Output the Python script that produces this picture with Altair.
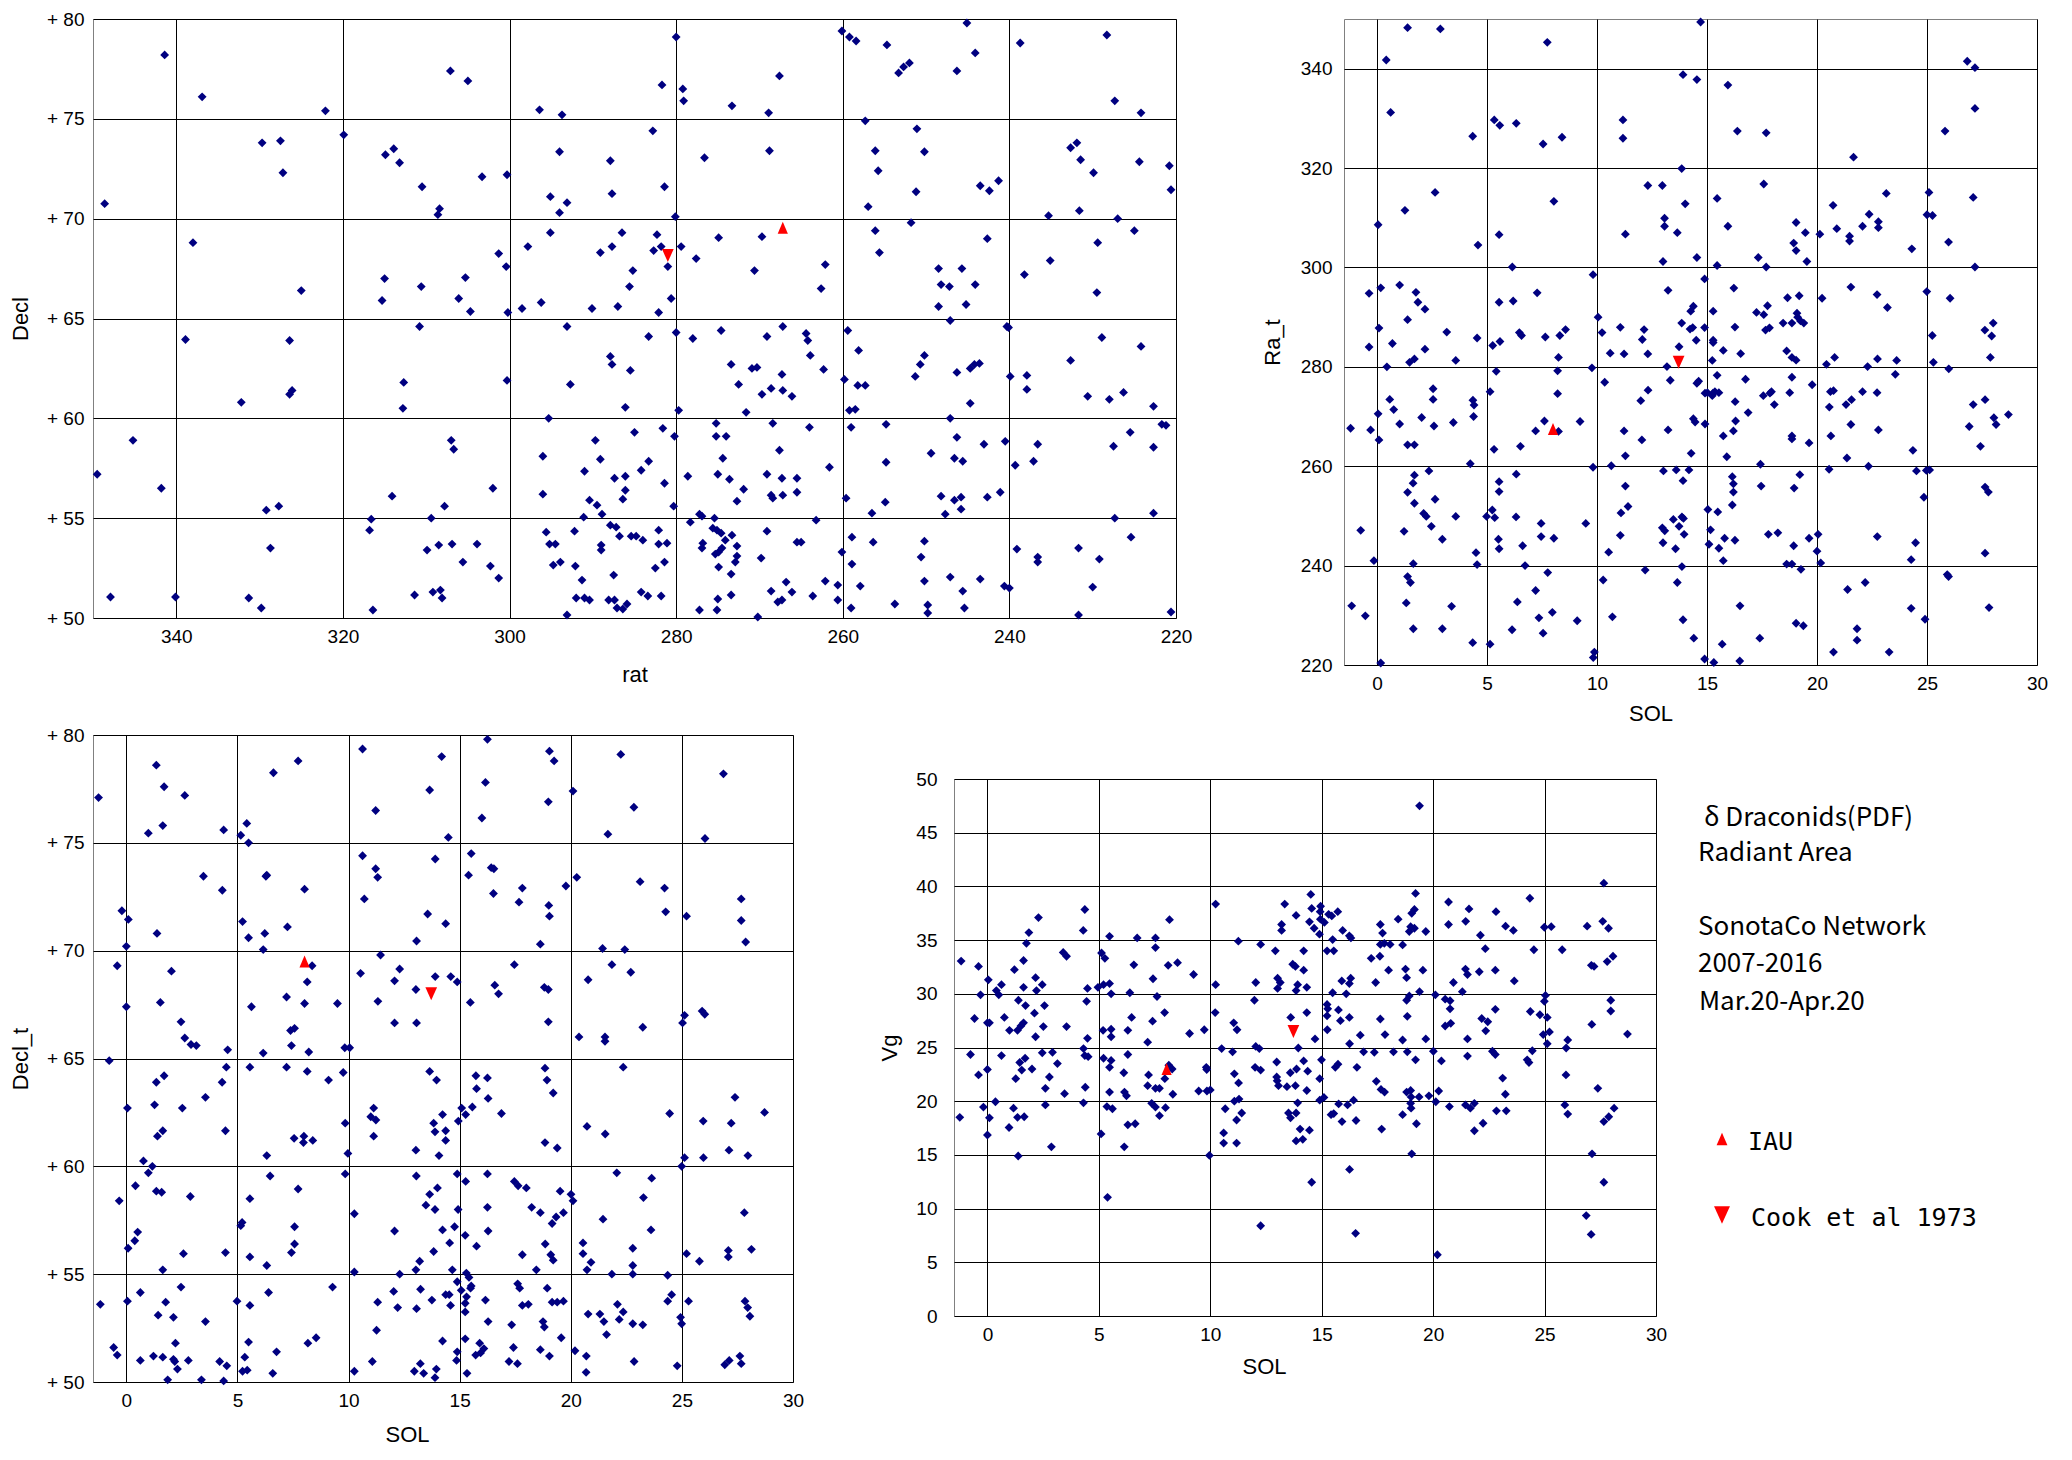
import altair as alt
import pandas as pd

# Panel 1: observed radiant, rat (deg) vs Decl (deg)
rat_decl = [
    (341.4, 78.2), (348.6, 70.75), (336.9, 76.1), (322.1, 75.4), (319.9, 74.2), (329.7, 73.8), (327.5, 73.9),
    (327.2, 72.3), (314.9, 73.2), (313.9, 73.5), (313.2, 72.8), (310.5, 71.6), (308.4, 70.5), (308.6, 70.2),
    (307.1, 77.4), (305.0, 76.9), (303.3, 72.1), (300.3, 72.2), (338.0, 68.8), (325.0, 66.4), (315.0, 67.0),
    (315.3, 65.9), (310.6, 66.6), (305.3, 67.05), (306.1, 66.0), (304.7, 65.35), (301.3, 68.25), (300.4, 67.6),
    (300.2, 65.3), (338.9, 63.95), (326.4, 63.9), (310.8, 64.6), (332.2, 60.8), (326.4, 61.2), (326.1, 61.4),
    (312.7, 61.8), (312.8, 60.5), (300.3, 61.9), (345.2, 58.9), (349.5, 57.2), (341.8, 56.5), (307.0, 58.9),
    (306.7, 58.45), (302.0, 56.5), (314.1, 56.1), (329.2, 55.4), (327.7, 55.6), (307.8, 55.6), (316.6, 54.95),
    (309.4, 55.0), (316.8, 54.4), (328.7, 53.5), (309.9, 53.4), (308.5, 53.65), (306.9, 53.7), (303.9, 53.7),
    (305.6, 52.8), (302.3, 52.6), (301.3, 52.0), (347.9, 51.05), (340.1, 51.05), (331.3, 51.0), (329.8, 50.5),
    (316.4, 50.4), (311.4, 51.15), (309.2, 51.3), (308.3, 51.4), (308.1, 51.0),
    (280.0, 79.1), (260.1, 79.4), (259.2, 79.1), (258.4, 78.9), (254.7, 78.7), (253.3, 77.3), (252.7, 77.6),
    (252.0, 77.8), (281.7, 76.7), (279.2, 76.5), (279.1, 75.9), (273.3, 75.65), (268.9, 75.3), (267.6, 77.15),
    (296.4, 75.45), (293.7, 75.2), (282.8, 74.4), (294.0, 73.35), (287.9, 72.9), (276.6, 73.05), (268.8, 73.4),
    (257.3, 74.9), (256.1, 73.4), (255.75, 72.4), (251.1, 74.5), (251.2, 71.35), (281.4, 71.6), (295.1, 71.1),
    (293.1, 70.8), (294.0, 70.3), (287.7, 71.25), (256.95, 70.6), (280.1, 70.1),
    (295.1, 69.3), (297.8, 68.6), (286.5, 69.3), (287.7, 68.6), (289.1, 68.3), (282.3, 69.2), (281.8, 68.6),
    (282.7, 68.4), (281.0, 67.6), (279.4, 68.6), (277.6, 68.0), (274.9, 69.05), (269.7, 69.1), (270.6, 67.4),
    (262.1, 67.7), (262.6, 66.5), (256.1, 69.4), (255.6, 68.3), (251.8, 69.8), (285.2, 67.4), (285.6, 66.6),
    (280.6, 66.0), (298.5, 65.5), (296.2, 65.8), (290.1, 65.5), (287.0, 65.6), (282.1, 65.3),
    (293.1, 64.6), (283.3, 64.1), (280.0, 64.3), (278.0, 64.0), (274.6, 64.4), (269.1, 64.1), (267.2, 64.6),
    (264.4, 64.25), (264.2, 63.9), (263.9, 63.15), (259.4, 64.4), (258.1, 63.4), (287.9, 63.1), (287.7, 62.7),
    (285.5, 62.4), (292.7, 61.7), (273.4, 62.7), (270.9, 62.5), (270.3, 62.55), (267.3, 62.2), (262.3, 62.45),
    (272.5, 61.7), (269.7, 61.2), (268.6, 61.5), (267.2, 61.4), (266.1, 61.1), (259.8, 61.95), (258.2, 61.65),
    (257.3, 61.65), (251.3, 62.1), (286.1, 60.55), (279.7, 60.4), (271.6, 60.3), (259.2, 60.4), (258.5, 60.45),
    (295.3, 60.0),
    (275.2, 59.75), (268.4, 59.75), (264.0, 59.55), (259.0, 59.55), (254.8, 59.7), (280.2, 59.1), (281.6, 59.5),
    (285.0, 59.3), (289.7, 58.9), (275.2, 59.1), (274.0, 59.1), (296.0, 58.1), (289.1, 57.95), (283.3, 57.85),
    (284.2, 57.4), (274.4, 58.0), (267.6, 58.4), (254.8, 57.8), (291.0, 57.35), (287.4, 57.0), (286.1, 57.1),
    (278.6, 57.1), (275.0, 57.2), (273.6, 56.95), (269.1, 57.2), (267.3, 57.0), (265.5, 57.0), (261.6, 57.55),
    (296.0, 56.2), (286.1, 56.4), (286.4, 55.95), (281.4, 56.75), (271.9, 56.45), (272.7, 55.85), (268.6, 56.15),
    (268.4, 56.0), (267.2, 56.15), (265.5, 56.3), (290.4, 55.9), (289.5, 55.65), (288.9, 55.2), (280.3, 55.6),
    (259.6, 56.0), (254.9, 55.8), (256.5, 55.25), (291.1, 55.05), (277.2, 55.2), (276.9, 55.1), (275.4, 55.0),
    (278.3, 54.8), (263.2, 54.9),
    (295.6, 54.3), (292.2, 54.35), (295.2, 53.7), (294.5, 53.7), (294.75, 52.65), (293.9, 52.8), (292.1, 52.6),
    (291.3, 51.9), (292.0, 51.0), (291.0, 51.0), (290.4, 50.9), (293.1, 50.15), (287.9, 54.65), (287.2, 54.55),
    (286.8, 54.1), (285.4, 54.1), (284.8, 54.1), (284.0, 53.9), (289.0, 53.65), (289.0, 53.4), (287.5, 52.15),
    (288.1, 50.9), (287.4, 50.9), (287.1, 50.5), (286.4, 50.45), (285.9, 50.7), (284.2, 51.3), (283.4, 51.1),
    (281.8, 51.1), (282.1, 54.4), (282.1, 53.7), (281.1, 53.75), (282.5, 52.5), (281.4, 52.8), (275.6, 54.5),
    (275.1, 54.4), (274.6, 54.25), (273.3, 54.15), (274.1, 53.9), (276.8, 53.75), (276.9, 53.5), (272.7, 53.6),
    (274.5, 53.5), (275.3, 53.2), (274.9, 53.3), (272.7, 53.1), (272.9, 52.8), (274.9, 52.55), (273.4, 52.2),
    (269.8, 53.0), (269.1, 54.35), (265.5, 53.8), (265.0, 53.8), (260.1, 53.3), (258.9, 54.05), (256.35, 53.8),
    (258.9, 52.7), (257.9, 51.6), (266.8, 51.8), (266.1, 51.3), (268.6, 51.35), (267.8, 50.8), (267.3, 50.9),
    (263.6, 51.1), (262.1, 51.85), (260.6, 51.65), (260.6, 50.9), (259.0, 50.5), (253.75, 50.7), (275.0, 50.95),
    (273.4, 51.15), (277.2, 50.4), (275.1, 50.4), (270.2, 50.05),
    (245.1, 79.8), (238.7, 78.8), (228.3, 79.2), (244.1, 78.3), (246.3, 77.4), (227.35, 75.9), (224.2, 75.3),
    (250.2, 73.35), (243.5, 71.65), (242.4, 71.4), (241.3, 71.9), (232.65, 73.55), (231.9, 73.8), (231.45, 72.95),
    (229.9, 72.3), (224.4, 72.85), (220.8, 72.65), (220.6, 71.45), (235.3, 70.15), (231.6, 70.4), (227.0, 70.0),
    (225.0, 69.4), (229.4, 68.8), (242.65, 69.0), (235.1, 67.9), (238.2, 67.2), (229.5, 66.3), (248.5, 67.5),
    (245.7, 67.5), (248.2, 66.7), (247.2, 66.6), (244.1, 66.7), (248.5, 65.6), (245.2, 65.7), (247.1, 64.9),
    (240.3, 64.6), (240.1, 64.55), (228.9, 64.05), (224.2, 63.6), (250.2, 63.15), (250.7, 62.7), (246.3, 62.3),
    (244.7, 62.5), (244.2, 62.7), (243.6, 62.75), (239.9, 62.1), (237.9, 62.15), (237.9, 61.45), (232.65, 62.9),
    (230.6, 61.1), (228.0, 60.95), (226.3, 61.3), (222.7, 60.6), (244.7, 60.75), (247.1, 60.0), (246.3, 59.05),
    (249.4, 58.25), (246.6, 58.0), (245.6, 57.85), (243.05, 58.7), (240.5, 58.85), (239.3, 57.65), (237.1, 57.85),
    (236.6, 58.7), (227.5, 58.6), (225.5, 59.3), (222.7, 58.55), (221.7, 59.7), (221.2, 59.65), (248.2, 56.1),
    (246.6, 55.9), (245.8, 56.05), (245.8, 55.45), (247.7, 55.2), (242.65, 56.05), (241.1, 56.3), (227.35, 55.0),
    (222.7, 55.25), (250.2, 53.85), (250.6, 53.05), (250.2, 51.85), (247.1, 52.05), (245.6, 51.35), (243.5, 51.95),
    (240.6, 51.6), (240.0, 51.5), (249.8, 50.65), (249.8, 50.25), (245.4, 50.5), (239.1, 53.45), (236.6, 53.05),
    (236.6, 52.8), (231.7, 53.5), (229.2, 52.95), (225.4, 54.05), (230.0, 51.55), (231.7, 50.15), (220.6, 50.3),
]

# Panel 2: SOL vs Ra_t
sol_ra = [
    (1.39, 348.25), (2.88, 348.0), (0.42, 341.75), (0.62, 331.2), (4.35, 326.4), (5.33, 329.7), (5.58, 328.6),
    (2.64, 315.1), (1.27, 311.5), (0.05, 308.6), (4.59, 304.5), (5.55, 306.6), (-0.36, 294.8), (0.17, 295.9),
    (1.03, 296.45), (1.77, 295.0), (1.86, 293.0), (2.18, 291.6), (1.39, 289.5), (0.09, 287.8), (3.17, 287.0),
    (4.55, 285.8), (5.26, 284.3), (5.59, 285.1), (-0.36, 284.0), (0.7, 284.7), (2.18, 283.55), (1.48, 280.9),
    (1.7, 281.6), (0.45, 280.0), (3.58, 281.3), (5.42, 279.1), (2.55, 275.6), (2.55, 273.45), (0.58, 273.45),
    (0.76, 271.4), (4.36, 273.3), (4.41, 272.3), (4.39, 270.0), (5.14, 275.0), (0.05, 270.55), (2.03, 269.8),
    (1.03, 268.5), (2.59, 268.1), (3.47, 268.8), (-1.2, 267.65), (-0.29, 267.3), (0.09, 265.3), (1.39, 264.3),
    (1.7, 264.3), (5.32, 263.4), (4.24, 260.5), (2.36, 259.05), (1.7, 258.2), (1.64, 256.6), (1.39, 254.75),
    (1.7, 252.55), (2.64, 253.35), (5.55, 256.9), (5.55, 254.9), (2.12, 250.5), (2.24, 249.9), (2.47, 247.9),
    (3.58, 249.9), (4.98, 249.9), (5.24, 251.2), (5.35, 249.65), (-0.74, 247.1), (1.23, 246.9), (2.97, 245.3),
    (5.52, 245.3), (5.55, 243.4), (-0.14, 241.0), (1.65, 240.4), (4.5, 242.6), (4.55, 240.2), (1.39, 237.8),
    (1.52, 236.6), (-1.15, 231.9), (-0.53, 229.9), (1.33, 232.5), (3.39, 231.8), (1.65, 227.3), (2.97, 227.3),
    (4.35, 224.5), (5.14, 224.2), (0.17, 220.4), (5.55, 293.0),
    (14.71, 349.4), (7.74, 345.3), (26.83, 341.5), (27.18, 340.2), (13.91, 338.8), (14.54, 337.8), (15.95, 336.7),
    (27.18, 332.0), (6.33, 329.0), (11.18, 329.7), (11.18, 326.0), (7.55, 324.85), (8.41, 326.2), (16.38, 327.45),
    (17.69, 327.1), (25.82, 327.45), (21.66, 322.2),
    (13.85, 319.9), (12.31, 316.5), (12.97, 316.5), (15.46, 313.9), (8.04, 313.3), (14.01, 312.8), (17.58, 316.8),
    (13.07, 309.9), (13.07, 308.3), (15.95, 308.3), (13.65, 307.0), (11.29, 306.7), (20.73, 312.5), (23.15, 314.9),
    (25.09, 315.1), (27.1, 314.1), (19.05, 309.05), (19.47, 307.0), (18.94, 304.9), (19.05, 303.4), (20.13, 306.7),
    (20.9, 307.8), (21.48, 306.3), (21.48, 305.3), (22.07, 308.3), (22.37, 310.7), (22.79, 309.2), (22.79, 308.0),
    (25.0, 310.6), (25.25, 310.45), (25.98, 305.1), (24.31, 303.75), (19.54, 301.2), (13.0, 301.2), (14.54, 302.0),
    (15.46, 300.4), (17.33, 302.0), (17.69, 300.1), (27.18, 300.1), (6.15, 300.1),
    (9.82, 298.55), (14.89, 297.7), (13.23, 295.4), (7.28, 294.9), (6.19, 293.25), (16.22, 295.85), (14.38, 292.2),
    (14.26, 291.2), (13.85, 288.8), (14.23, 287.6), (14.35, 287.9), (14.89, 287.9), (14.51, 285.35), (15.28, 291.2),
    (15.28, 285.35), (15.28, 284.9), (15.74, 283.3), (16.27, 288.0), (16.53, 282.65), (13.73, 284.05),
    (10.05, 290.0), (10.23, 286.9), (11.06, 287.95), (12.14, 287.5), (12.06, 285.5), (10.6, 282.75),
    (11.23, 282.6), (12.31, 282.6), (6.47, 286.9), (6.57, 286.3), (7.65, 286.0), (8.31, 286.3), (8.57, 287.5),
    (8.25, 281.9), (17.25, 290.95), (17.58, 290.5), (17.75, 292.3), (17.66, 287.4), (17.84, 287.85),
    (18.46, 288.8), (18.66, 293.9), (19.19, 294.3), (18.86, 288.8), (19.09, 290.8), (19.12, 290.0),
    (19.25, 289.25), (19.4, 288.8), (18.62, 283.2), (18.86, 281.9), (19.05, 281.35), (20.23, 293.8),
    (21.54, 296.05), (22.73, 294.55), (23.2, 291.95), (24.99, 295.15), (26.05, 293.8), (27.63, 287.4),
    (28.01, 288.8), (27.94, 286.2), (27.88, 281.9), (25.24, 286.3), (20.8, 281.9), (22.75, 281.6), (23.62, 281.3),
    (15.24, 281.3), (9.77, 279.8), (13.18, 280.05), (22.3, 280.05), (25.29, 280.9),
    (8.21, 279.2), (8.21, 274.6), (10.35, 276.9), (12.32, 275.3), (11.99, 273.2), (13.33, 277.3), (14.54, 276.7),
    (14.62, 277.1), (14.91, 274.7), (15.02, 274.8), (15.27, 274.7), (15.36, 275.0), (15.54, 274.8), (15.24, 274.2),
    (15.46, 278.3), (16.28, 273.0), (16.75, 277.5), (17.56, 274.2), (17.86, 274.7), (17.93, 275.0), (18.06, 272.4),
    (16.87, 270.8), (18.86, 277.9), (18.76, 274.8), (19.78, 276.4), (20.43, 280.5), (20.56, 271.9), (20.61, 275.0),
    (20.75, 275.2), (21.32, 272.4), (21.57, 273.4), (22.07, 275.0), (22.73, 274.8), (23.56, 278.5), (25.99, 279.6),
    (27.1, 272.4), (27.64, 273.4), (28.04, 269.75), (28.14, 268.4), (28.7, 270.4), (26.92, 268.0), (27.43, 264.0),
    (24.36, 263.2), (22.79, 267.3), (21.54, 268.4), (21.36, 261.65), (20.63, 266.1), (20.55, 259.4),
    (19.64, 264.7), (18.86, 266.1), (18.86, 265.5), (16.3, 269.1), (16.2, 267.1), (15.74, 266.1), (15.9, 261.9),
    (14.91, 268.5), (14.46, 268.9), (14.38, 269.55), (14.28, 262.6), (13.23, 267.3), (11.23, 267.1),
    (11.29, 262.1), (12.04, 265.3), (9.23, 269.0), (7.61, 269.1), (7.21, 267.1), (8.25, 267.0), (6.52, 264.0),
    (10.65, 260.1), (13.02, 259.05), (13.6, 259.25), (13.91, 257.1), (14.18, 259.25), (17.43, 260.4),
    (22.34, 260.0), (24.52, 259.05), (24.97, 259.15), (25.12, 259.25), (9.82, 259.8),
    (6.33, 258.4), (11.29, 256.0), (16.15, 257.9), (16.2, 256.45), (16.2, 254.8), (16.15, 252.2), (17.46, 256.0),
    (19.22, 258.3), (18.96, 255.6), (24.86, 253.75), (27.64, 255.8), (27.79, 254.8), (6.32, 249.8), (7.46, 248.5),
    (9.49, 248.5), (11.09, 250.6), (11.41, 251.9), (15.04, 251.3), (15.49, 250.8), (7.46, 245.85), (8.04, 245.5),
    (6.62, 244.0), (10.53, 242.7), (11.06, 246.1), (12.97, 247.6), (13.08, 247.0), (13.0, 244.6), (13.47, 249.3),
    (13.73, 247.9), (13.86, 249.8), (13.93, 249.5), (13.96, 246.3), (13.57, 243.4), (15.16, 247.2),
    (15.09, 244.3), (15.54, 243.5), (15.8, 245.5), (16.27, 245.1), (15.74, 241.0), (17.79, 246.3), (18.22, 246.6),
    (18.94, 244.0), (19.64, 245.5), (20.05, 246.3), (20.0, 242.9), (20.17, 240.55), (18.62, 240.3),
    (18.86, 240.3), (19.27, 239.25), (22.74, 245.85), (24.48, 244.6), (24.28, 241.2), (27.64, 242.5),
    (6.73, 240.0), (7.76, 238.6),
    (10.28, 237.1), (12.19, 239.1), (13.65, 236.6), (13.86, 239.8), (25.92, 238.2), (25.98, 237.8),
    (21.39, 235.2), (22.19, 236.6), (7.21, 235.0), (6.38, 232.7), (7.36, 229.5), (7.97, 230.6), (9.1, 228.9),
    (7.55, 226.4), (6.14, 227.1), (10.7, 229.7), (13.91, 229.1), (14.4, 225.4), (16.5, 231.9), (17.4, 225.4),
    (14.89, 221.2), (15.31, 220.5), (15.69, 224.2), (16.49, 220.8), (19.05, 228.4), (19.38, 227.9),
    (20.75, 222.6), (21.82, 227.3), (21.82, 225.0), (23.28, 222.6), (24.28, 231.4), (24.91, 229.2),
    (27.82, 231.55), (9.88, 222.6), (9.83, 221.5),
]

# Panel 3: SOL vs Decl_t
sol_decl = [
    (1.35, 78.6), (1.7, 77.6), (2.63, 77.2), (-1.25, 77.1), (1.64, 75.8), (0.99, 75.45), (4.38, 75.6), (5.42, 75.9),
    (5.15, 75.35), (5.5, 75.0), (6.62, 78.25), (7.73, 78.8), (10.63, 79.35), (11.22, 76.5), (13.65, 77.45),
    (14.19, 79.0), (14.49, 75.25),
    (10.63, 74.4), (11.22, 73.8), (11.31, 73.4), (10.71, 72.4), (13.9, 74.25), (13.56, 71.7), (14.37, 71.25),
    (13.06, 70.45), (3.47, 73.45), (4.32, 72.8), (-0.2, 71.85), (0.09, 71.45), (1.38, 70.8), (0.0, 70.2),
    (5.23, 71.35), (5.5, 70.6), (6.23, 70.8), (6.16, 70.05), (7.25, 71.1), (6.28, 73.45), (6.32, 73.5), (8.02, 72.85),
    (-0.41, 69.3), (2.03, 69.05), (0.0, 67.4), (1.53, 67.6), (2.46, 66.7), (2.63, 65.95), (2.91, 65.65),
    (3.15, 65.6), (4.56, 65.4), (8.36, 69.3), (8.14, 68.55), (7.21, 67.85), (8.02, 67.55), (9.5, 67.55),
    (5.63, 67.4), (7.39, 66.3), (7.57, 66.4), (7.43, 65.6), (8.21, 65.3), (6.16, 65.25), (9.83, 65.5),
    (10.05, 65.5), (10.54, 68.95), (11.44, 69.8), (12.3, 69.15), (12.07, 68.6), (11.32, 67.65), (13.03, 68.2),
    (12.07, 66.65), (13.06, 66.65), (13.9, 68.8), (14.6, 68.8), (14.89, 68.55), (-0.77, 64.9),
    (1.35, 63.9), (1.7, 64.2), (1.27, 62.85), (0.05, 62.7), (2.52, 62.7), (1.4, 61.4), (1.64, 61.65), (3.56, 63.2),
    (4.31, 63.9), (4.5, 64.6), (4.46, 61.65), (5.56, 64.6), (7.21, 64.6), (8.14, 64.4), (9.1, 64.0), (9.76, 64.35),
    (9.85, 62.0), (9.97, 60.6), (7.55, 61.3), (7.99, 61.4), (7.97, 61.1), (8.39, 61.2), (6.32, 60.5), (0.77, 60.25),
    (1.17, 60.0), (0.99, 59.7), (11.13, 62.7), (11.0, 62.3), (11.23, 62.15), (11.13, 61.4), (13.65, 64.4),
    (13.96, 64.0), (14.23, 62.4), (13.83, 62.0), (13.89, 61.6), (14.37, 61.65), (14.37, 61.2), (14.07, 60.5),
    (13.03, 60.75), (14.94, 62.1),
    (0.41, 59.1), (-0.32, 58.4), (1.35, 58.85), (1.59, 58.8), (2.88, 58.6), (6.47, 59.55), (7.73, 58.95),
    (5.56, 58.5), (5.15, 57.25), (5.21, 57.4), (0.51, 56.95), (0.38, 56.55), (0.08, 56.2), (2.57, 55.95),
    (4.46, 56.0), (5.56, 55.8), (1.64, 55.2), (6.32, 55.4), (7.57, 57.2), (7.57, 56.4), (7.43, 56.0), (9.85, 59.65),
    (10.26, 57.8), (12.07, 57.0), (13.05, 59.55), (13.65, 58.7), (13.48, 58.2), (13.89, 58.0), (14.0, 59.0),
    (14.89, 59.65), (14.23, 57.05), (14.55, 56.45), (14.77, 57.2), (14.93, 58.0), (13.83, 56.05), (13.2, 55.6),
    (13.03, 55.2), (12.3, 55.0), (10.26, 55.1), (14.67, 55.2), (14.89, 54.65),
    (-1.17, 53.6), (0.05, 53.75), (0.63, 54.15), (1.77, 53.7), (1.43, 53.1), (2.12, 53.0), (2.46, 54.4),
    (3.56, 52.8), (4.98, 53.75), (5.56, 53.55), (6.4, 54.15), (9.28, 54.4), (11.31, 53.7), (12.03, 54.2),
    (12.21, 53.45), (13.06, 53.4), (13.24, 54.3), (13.75, 53.8), (14.37, 54.05), (14.53, 54.05), (14.59, 53.55),
    (11.26, 52.4), (-0.57, 51.6), (-0.41, 51.25), (0.63, 51.0), (1.22, 51.2), (1.64, 51.15), (2.12, 51.05),
    (2.18, 50.95), (2.21, 51.8), (2.3, 50.6), (1.86, 50.1), (2.79, 51.0), (3.38, 50.1), (4.2, 50.95), (4.52, 50.75),
    (4.38, 50.05), (5.5, 51.85), (5.33, 51.15), (5.23, 50.5), (5.44, 50.55), (6.59, 50.4), (6.76, 51.4),
    (8.17, 51.8), (8.54, 52.05), (10.26, 50.5), (11.07, 50.95), (13.23, 50.85), (12.96, 50.5), (13.38, 50.4),
    (13.95, 50.6), (13.89, 50.2), (14.23, 51.9), (14.89, 51.4), (14.86, 51.0),
    (16.25, 79.8), (19.04, 79.25), (19.25, 78.8), (16.16, 77.8), (18.99, 76.9), (16.0, 76.15), (20.1, 77.4),
    (22.25, 79.1), (22.84, 76.65), (21.67, 75.4), (26.87, 78.2), (26.04, 75.2),
    (15.52, 74.5), (15.4, 73.5), (16.42, 73.85), (16.54, 73.8), (16.52, 72.65), (17.82, 72.9), (17.67, 72.25),
    (19.01, 72.1), (19.04, 71.6), (19.78, 73.0), (20.27, 73.4), (18.63, 70.3), (21.43, 70.1), (22.43, 70.05),
    (23.12, 73.2), (24.22, 72.9), (24.27, 71.8), (25.21, 71.6), (27.67, 72.4), (27.67, 71.4), (27.87, 70.4),
    (17.46, 69.35), (16.58, 68.4), (16.75, 68.0), (15.48, 67.6), (18.81, 68.3), (18.99, 68.2), (18.99, 66.7),
    (20.78, 68.65), (21.85, 69.35), (22.7, 69.0), (23.24, 66.45), (20.37, 66.0), (21.54, 66.0), (21.54, 65.8),
    (25.12, 67.0), (25.03, 66.65), (25.91, 67.2), (26.03, 67.05),
    (15.73, 64.2), (15.76, 63.6), (16.25, 64.1), (16.28, 63.15), (15.57, 62.75), (15.27, 62.4), (15.09, 62.7),
    (16.88, 62.45), (18.84, 64.55), (18.93, 64.0), (19.21, 63.4), (18.84, 61.1), (19.39, 60.85), (22.36, 64.6),
    (20.73, 61.85), (21.55, 61.5), (24.45, 62.45), (25.12, 60.4), (25.96, 62.1), (25.97, 60.4), (27.39, 63.2),
    (27.22, 62.0), (28.72, 62.5), (27.12, 60.75), (27.97, 60.5), (24.99, 60.0),
    (15.27, 59.3), (16.25, 59.65), (17.46, 59.3), (17.63, 59.1), (18.0, 59.0), (19.52, 58.85), (20.01, 58.7),
    (20.1, 58.4), (22.07, 59.7), (23.64, 59.45), (23.27, 58.55), (16.25, 58.1), (16.28, 57.0), (18.24, 58.1),
    (18.63, 57.85), (19.67, 57.85), (19.34, 57.65), (19.16, 57.35), (21.45, 57.55), (23.61, 57.05), (15.25, 56.8),
    (15.76, 56.3), (18.85, 56.4), (19.1, 55.9), (19.21, 55.65), (17.82, 55.9), (18.45, 55.2), (20.55, 56.45),
    (20.55, 55.95), (20.91, 55.55), (20.73, 55.2), (22.79, 56.2), (22.79, 55.4), (27.81, 57.85), (28.13, 56.15),
    (27.09, 56.1), (27.09, 55.8), (25.21, 55.95), (25.79, 55.6),
    (15.3, 55.05), (15.42, 54.85), (15.52, 54.45), (15.49, 54.35), (15.07, 54.25), (15.31, 53.95), (15.25, 53.65),
    (15.25, 53.25), (16.16, 53.8), (16.28, 52.8), (17.61, 54.55), (17.7, 54.35), (17.82, 53.55), (18.09, 53.6),
    (18.94, 54.35), (19.16, 53.7), (19.39, 53.7), (19.67, 53.75), (17.34, 52.65), (18.75, 52.8), (18.81, 52.55),
    (19.57, 52.05), (15.25, 52.0), (15.9, 51.8), (16.09, 51.55), (15.72, 51.25), (15.94, 51.35), (17.42, 51.6),
    (17.22, 50.95), (17.6, 50.85), (18.63, 51.5), (19.04, 51.2), (15.33, 50.4), (20.78, 53.15), (21.31, 53.15),
    (21.49, 52.8), (21.61, 52.2), (22.1, 53.6), (22.18, 52.9), (22.36, 53.25), (21.85, 55.0), (22.79, 55.0),
    (22.79, 52.7), (23.24, 52.65), (20.19, 51.45), (20.7, 51.2), (20.69, 50.45), (22.85, 50.95), (24.36, 54.95),
    (24.54, 54.05), (24.36, 53.75), (25.3, 53.75), (24.94, 53.0), (24.99, 52.7), (24.79, 50.75), (27.84, 53.75),
    (27.96, 53.45), (28.06, 53.05), (26.93, 50.8), (27.13, 51.0), (27.61, 51.2), (27.67, 50.85),
]

# Panel 4: SOL vs Vg (km/s)
sol_vg = [
    (-1.18, 33.05), (-0.4, 32.55), (-0.31, 29.9), (-0.58, 27.7), (-0.76, 24.35), (-0.4, 22.45), (-0.18, 19.45),
    (-1.24, 18.5), (0.04, 31.3), (0.4, 30.3), (0.51, 29.9), (0.63, 30.85), (0.0, 27.3), (0.09, 27.3), (0.76, 27.8),
    (0.63, 24.25), (0.0, 22.95), (0.36, 19.95), (0.09, 18.45), (0.0, 16.85), (0.97, 17.55), (1.38, 14.9),
    (1.21, 32.25), (1.62, 33.1), (1.75, 34.7), (1.86, 35.7), (2.29, 37.1), (2.16, 31.5), (2.2, 30.3), (2.46, 30.85),
    (1.62, 30.6), (1.39, 29.4), (1.71, 28.9), (2.56, 28.9), (2.11, 28.2), (0.99, 26.6), (1.35, 26.6), (1.5, 27.0),
    (1.62, 27.3), (2.51, 26.95), (2.16, 26.0), (3.55, 26.95), (3.4, 33.85), (3.55, 33.5), (4.3, 35.9),
    (4.37, 37.85), (4.49, 30.5), (4.45, 29.3), (4.49, 25.85), (4.31, 24.9), (4.37, 24.25), (4.52, 24.15),
    (1.45, 23.6), (1.69, 24.0), (2.46, 24.5), (2.92, 24.55), (1.54, 22.9), (2.0, 23.0), (3.14, 23.5), (2.78, 22.25),
    (1.27, 22.1), (2.6, 21.2), (3.46, 20.7), (4.39, 21.3), (4.31, 19.85), (2.6, 19.65), (1.17, 19.35), (1.35, 18.5),
    (1.65, 18.55), (2.87, 15.75), (5.48, 35.35), (5.12, 33.8), (5.27, 33.3), (4.96, 30.6), (5.21, 30.85),
    (5.48, 30.95), (5.55, 30.0), (6.39, 30.1), (6.57, 32.7), (6.72, 35.2), (7.54, 35.2), (7.54, 34.3), (8.17, 36.9),
    (8.11, 32.65), (8.53, 32.9), (7.43, 31.4), (7.61, 29.75), (9.25, 31.8), (7.95, 28.25), (7.41, 27.45),
    (6.47, 27.8), (6.3, 26.6), (5.19, 26.6), (5.55, 26.7), (5.55, 26.0), (7.19, 25.5), (9.07, 26.3), (9.73, 26.65),
    (6.3, 24.35), (5.21, 24.0), (5.55, 23.8), (5.48, 23.15), (6.12, 22.65), (7.23, 22.45), (8.14, 23.35),
    (8.29, 23.0), (7.96, 22.1), (7.19, 21.45), (7.54, 21.2), (7.72, 21.2), (8.32, 20.65), (9.48, 20.95),
    (9.85, 20.95), (10.0, 21.05), (9.84, 22.95), (9.82, 23.15), (5.48, 20.85), (6.15, 20.85), (6.24, 20.5),
    (7.37, 19.8), (7.54, 19.45), (7.99, 19.4), (7.72, 18.65), (5.36, 19.5), (5.61, 19.3), (6.3, 17.8), (6.63, 17.9),
    (5.1, 16.95), (6.14, 15.75), (5.39, 11.05), (9.96, 14.95), (10.24, 38.35), (10.24, 30.85), (10.22, 28.25),
    (11.26, 34.9), (12.26, 34.6), (11.05, 27.3), (11.2, 26.65), (10.51, 24.9), (11.0, 24.6), (12.04, 31.05),
    (11.98, 29.4), (12.04, 25.1), (12.2, 24.9), (12.01, 23.15), (12.26, 22.9), (11.08, 22.55), (11.27, 21.7),
    (11.08, 20.0), (11.29, 20.2), (11.41, 18.9), (10.67, 19.3), (11.18, 18.25), (10.6, 17.05), (10.6, 16.1),
    (11.18, 16.1), (12.26, 8.4), (12.92, 34.0), (13.34, 38.35), (13.2, 36.45), (13.2, 35.9), (13.85, 37.3),
    (14.51, 39.25), (14.55, 37.95), (14.45, 36.7), (14.66, 36.1), (14.19, 34.0), (13.7, 32.75), (13.82, 32.55),
    (14.19, 32.2), (13.02, 31.45), (13.14, 31.05), (13.02, 30.5), (13.92, 30.85), (13.85, 30.3), (14.33, 30.6),
    (13.61, 27.8), (14.33, 28.25), (14.7, 25.8), (13.95, 24.95), (12.98, 23.65), (14.19, 23.75), (13.59, 22.65),
    (13.87, 23.0), (14.37, 22.8), (12.98, 22.25), (13.0, 21.9), (13.06, 21.45), (13.44, 21.35), (13.82, 21.45),
    (14.33, 21.0), (13.92, 19.85), (13.51, 18.9), (13.85, 18.9), (13.6, 18.45), (14.03, 17.4), (14.45, 17.3),
    (13.85, 16.3), (14.15, 16.45), (14.55, 12.45),
    (19.39, 47.5), (27.66, 40.3), (19.21, 39.35), (20.69, 38.55), (24.34, 38.9), (21.61, 37.9), (22.82, 37.65),
    (14.95, 38.15), (14.93, 37.65), (15.31, 37.4), (15.45, 37.25), (15.72, 37.65), (14.94, 36.95), (15.12, 36.65),
    (14.9, 35.55), (15.94, 35.9), (16.24, 35.4), (16.31, 35.2), (15.49, 35.05), (15.24, 34.0), (15.54, 34.0),
    (19.04, 37.5), (19.16, 37.85), (18.99, 36.25), (19.16, 36.1), (18.93, 35.8), (19.67, 35.8), (18.43, 36.95),
    (17.63, 36.45), (17.73, 35.65), (17.63, 34.6), (17.81, 34.7), (18.07, 34.6), (18.63, 34.55), (17.22, 33.3),
    (17.61, 33.5), (20.69, 36.45), (21.46, 36.75), (22.12, 35.45), (23.25, 36.3), (23.6, 35.9), (22.34, 34.2),
    (24.52, 34.1), (24.99, 36.2), (25.3, 36.25), (25.79, 34.1), (26.91, 36.3), (27.61, 36.75), (27.87, 36.1),
    (27.1, 32.65), (27.22, 32.55), (27.81, 33.0), (28.07, 33.5), (18.0, 32.2), (18.76, 32.3), (18.81, 31.5),
    (19.54, 32.2), (17.42, 31.05), (15.9, 31.2), (16.3, 31.45), (16.24, 30.95), (15.49, 30.1), (16.1, 30.0),
    (19.39, 30.2), (18.93, 29.8), (18.81, 29.4), (20.1, 29.9), (21.45, 32.3), (21.54, 31.8), (22.07, 32.05),
    (22.79, 32.2), (20.91, 31.05), (21.31, 30.2), (23.64, 31.2), (20.54, 29.5), (20.76, 29.35), (20.76, 28.6),
    (20.54, 27.0), (20.79, 27.25), (22.79, 28.55), (22.18, 27.7), (22.45, 27.4), (22.36, 26.55), (25.04, 29.85),
    (24.99, 29.3), (24.36, 28.35), (24.79, 28.05), (25.12, 27.8), (24.94, 26.2), (25.22, 26.45), (25.12, 25.35),
    (26.04, 25.7), (25.97, 24.95), (27.97, 29.4), (27.97, 28.4), (27.12, 27.15), (28.72, 26.25), (15.24, 29.0),
    (15.27, 28.6), (15.24, 27.95), (15.25, 26.65), (15.75, 28.5), (15.84, 27.5), (16.24, 27.8), (16.25, 25.35),
    (16.73, 26.15), (17.63, 27.65), (17.84, 26.2), (18.84, 27.9), (18.63, 25.7), (19.67, 25.8), (21.54, 25.8),
    (16.88, 24.6), (17.36, 24.55), (18.22, 24.6), (18.84, 24.6), (20.01, 24.65), (20.37, 23.75), (21.54, 24.2),
    (22.66, 24.65), (22.79, 24.35), (24.45, 24.7), (24.22, 23.85), (24.3, 23.6), (14.99, 23.85), (15.61, 23.15),
    (15.73, 23.45), (16.58, 23.15), (19.21, 23.85), (14.91, 22.1), (17.45, 21.85), (17.66, 21.1), (17.82, 20.85),
    (18.81, 20.85), (18.99, 21.0), (19.01, 20.4), (19.37, 20.4), (19.81, 20.5), (20.25, 20.95), (20.12, 19.95),
    (18.99, 19.8), (19.01, 19.35), (23.12, 22.15), (23.24, 20.65), (25.96, 22.45), (27.39, 21.2), (14.91, 20.1),
    (15.1, 20.35), (15.76, 19.75), (16.16, 19.65), (16.43, 20.1), (15.42, 18.75), (15.54, 18.85), (15.91, 18.1),
    (16.54, 18.2), (18.63, 18.75), (19.25, 17.9), (17.69, 17.4), (20.73, 19.5), (21.45, 19.65), (21.67, 19.35),
    (21.85, 19.8), (22.24, 17.95), (21.85, 17.25), (22.84, 19.1), (23.28, 19.1), (25.91, 19.65), (26.04, 18.8),
    (27.66, 18.1), (27.88, 18.55), (28.12, 19.35), (19.04, 15.1), (27.13, 15.1), (16.25, 13.65), (27.66, 12.45),
    (26.87, 9.35), (27.09, 7.6), (16.52, 7.7), (20.19, 5.7),
]

# reference radiants, one point per panel (panel 1..4)
iau_refs = [(267.2, 69.55), (8.0, 267.5), (8.02, 69.5), (8.04, 23.0)]
cook_refs = [(281.0, 68.15), (13.71, 280.9), (13.72, 68.0), (13.73, 26.5)]

rat_ticks = [220, 240, 260, 280, 300, 320, 340]
sol_ticks = [0, 5, 10, 15, 20, 25, 30]
decl_ticks = [50, 55, 60, 65, 70, 75, 80]
ra_ticks = [220, 240, 260, 280, 300, 320, 340]
vg_ticks = [0, 5, 10, 15, 20, 25, 30, 35, 40, 45, 50]

legend_lines = ["δ Draconids(PDF)", "Radiant Area", "SonotaCo Network", "2007-2016", "Mar.20-Apr.20"]
ref_names = ["IAU", "Cook et al 1973"]

NAVY = "#000080"
RED = "#ff0000"
FONT = "Liberation Sans"
UP = "M0,-1L0.85,1L-0.85,1Z"
DOWN = "M0,1L0.9,-1L-0.9,-1Z"


def make_axis(title, ticks, title_pad, label_pad=9, plus=False, title_x=None):
    opts = dict(
        title=title, values=ticks, grid=True, gridColor="black", gridWidth=1,
        ticks=False, domain=False, labelFlush=False, labelOverlap=False,
        labelFont=FONT, labelFontSize=19, labelColor="black", labelPadding=label_pad,
        titleFont=FONT, titleFontSize=22, titleFontWeight="normal", titleColor="black",
        titlePadding=title_pad,
    )
    if plus:
        opts["labelExpr"] = "'+ ' + datum.value"
    if title_x is not None:
        opts["titleX"] = title_x
    return alt.Axis(**opts)


def panel(points, iau, cook, x_axis, y_axis, x_dom, y_dom, w, h, x_rev=False):
    x = alt.X("x:Q", scale=alt.Scale(domain=x_dom, reverse=x_rev, nice=False, zero=False), axis=x_axis)
    y = alt.Y("y:Q", scale=alt.Scale(domain=y_dom, nice=False, zero=False), axis=y_axis)
    dots = alt.Chart(pd.DataFrame(points, columns=["x", "y"])).mark_point(
        shape="diamond", filled=True, size=78, color=NAVY, opacity=1
    ).encode(x=x, y=y)
    up = alt.Chart(pd.DataFrame([iau], columns=["x", "y"])).mark_point(
        shape=UP, filled=True, size=144, color=RED, opacity=1
    ).encode(x=x, y=y)
    down = alt.Chart(pd.DataFrame([cook], columns=["x", "y"])).mark_point(
        shape=DOWN, filled=True, size=169, color=RED, opacity=1
    ).encode(x=x, y=y)
    return alt.layer(dots, up, down).properties(
        width=w, height=h, view=alt.ViewBackground(stroke="#808080", strokeWidth=1)
    )


p1 = panel(rat_decl, iau_refs[0], cook_refs[0],
           make_axis("rat", rat_ticks, 18), make_axis("Decl", decl_ticks, 14, plus=True),
           [220, 350], [50, 80], 1083, 599, x_rev=True)
p2 = panel(sol_ra, iau_refs[1], cook_refs[1],
           make_axis("SOL", sol_ticks, 10, title_x=693 / 2 - 40),
           make_axis("Ra_t", ra_ticks, 16, label_pad=12),
           [-1.5, 30], [220, 350], 693, 646)
p3 = panel(sol_decl, iau_refs[2], cook_refs[2],
           make_axis("SOL", sol_ticks, 14, title_x=700 / 2 - 36), make_axis("Decl_t", decl_ticks, 14, plus=True),
           [-1.5, 30], [50, 80], 700, 647)
p4 = panel(sol_vg, iau_refs[3], cook_refs[3],
           make_axis("SOL", sol_ticks, 12, title_x=702 / 2 - 41),
           make_axis("Vg", vg_ticks, 14, label_pad=17),
           [-1.5, 30], [0, 50], 702, 537)

# annotation block to the right of the Vg panel
note = []
for line, y_pos, x_pos in zip(legend_lines, [47, 82, 156, 193, 231], [750, 744, 744, 744, 745]):
    note.append(alt.Chart(pd.DataFrame({"t": [line]})).mark_text(
        align="left", baseline="alphabetic", font="Noto Sans CJK JP", fontSize=26, color="black"
    ).encode(text="t:N", x=alt.value(x_pos), y=alt.value(y_pos)))
for name, shape, sz, y_mark, y_text, x_text in zip(
        ref_names, [UP, DOWN], [161, 313], [360, 436], [371, 447], [794, 797]):
    note.append(alt.Chart(pd.DataFrame({"t": [name]})).mark_point(
        shape=shape, filled=True, size=sz, color=RED, opacity=1
    ).encode(x=alt.value(768), y=alt.value(y_mark)))
    note.append(alt.Chart(pd.DataFrame({"t": [name]})).mark_text(
        align="left", baseline="alphabetic", font="DejaVu Sans Mono", fontSize=25, color="black"
    ).encode(text="t:N", x=alt.value(x_text), y=alt.value(y_text)))

p4 = alt.layer(p4, *note)

# invisible block that drops the Vg panel below the top of its neighbour
spacer = alt.Chart(pd.DataFrame({"v": [0]})).mark_point(opacity=0).encode(
    x=alt.X("v:Q", axis=None), y=alt.Y("v:Q", axis=None)
).properties(width=702, height=33, view=alt.ViewBackground(stroke="transparent"))

right_col = alt.vconcat(spacer, p4, spacing=0)
row1 = alt.hconcat(p1, p2, spacing=67)
row2 = alt.hconcat(p3, right_col, spacing=73)

chart = alt.vconcat(row1, row2, spacing=0).properties(
    padding={"left": 0, "top": 1, "right": 0, "bottom": 0},
    background="white",
)

chart.save("out.html", embed_options={"renderer": "svg", "actions": False})
